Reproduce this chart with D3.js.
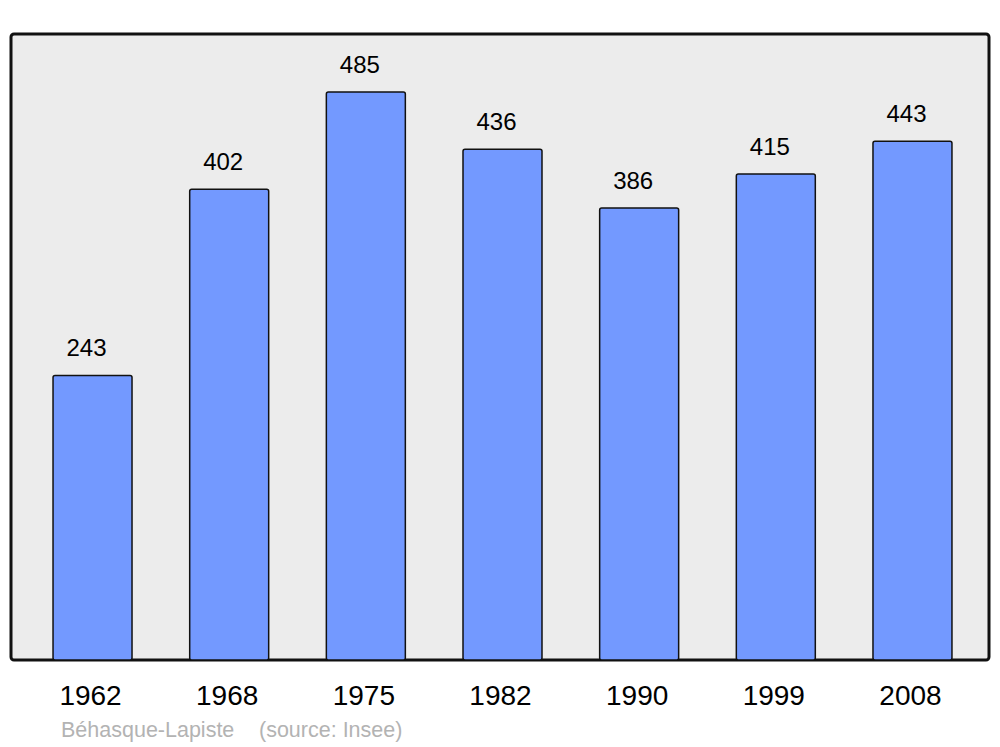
<!DOCTYPE html>
<html><head><meta charset="utf-8">
<script src="https://cdn.jsdelivr.net/npm/d3@7"></script>
<style>body{margin:0;background:#fff}svg{display:block}</style>
</head><body>
<script>
const years = ["1962","1968","1975","1982","1990","1999","2008"];
const population = [243,402,485,436,386,415,443];
const sourceParts = ["Béhasque-Lapiste", "(source: Insee)"];

const W = 1000, H = 747;
const svg = d3.select("body").append("svg").attr("width", W).attr("height", H);
const font = "'Liberation Sans', Arial, sans-serif";

const plot = {x0: 11, x1: 989, y0: 34, y1: 660};
svg.append("rect").attr("x", plot.x0).attr("y", plot.y0)
  .attr("width", plot.x1 - plot.x0).attr("height", plot.y1 - plot.y0)
  .attr("rx", 3).attr("fill", "#ececec").attr("stroke", "#111").attr("stroke-width", 3);

const x = d3.scaleBand().domain(years).range([24.2, 980.8]).paddingInner(0.422).paddingOuter(0.211);
const y = d3.scaleLinear().domain([0, 534.5]).range([plot.y1, plot.y0]);

svg.selectAll("rect.bar").data(years).join("rect").attr("class","bar")
  .attr("x", d => x(d)).attr("width", x.bandwidth())
  .attr("y", (d,i) => y(population[i])).attr("height", (d,i) => plot.y1 - y(population[i]))
  .attr("rx", 2).attr("fill", "#7399ff").attr("stroke", "#111").attr("stroke-width", 1.5);

svg.selectAll("text.val").data(years).join("text").attr("class","val")
  .attr("x", d => x(d) + x.bandwidth()/2 - 6).attr("y", (d,i) => y(population[i]) - 19)
  .attr("text-anchor","middle").attr("font-family", font).attr("font-size", 24).attr("fill","#000")
  .text((d,i) => population[i]);

svg.selectAll("text.yr").data(years).join("text").attr("class","yr")
  .attr("x", d => x(d) + x.bandwidth()/2 - 2).attr("y", 705)
  .attr("text-anchor","middle").attr("font-family", font).attr("font-size", 28).attr("fill","#000")
  .text(d => d);

svg.selectAll("text.src").data(sourceParts).join("text").attr("class","src")
  .attr("x", (d,i) => i === 0 ? 61 : 259).attr("y", 737)
  .attr("font-family", font).attr("font-size", 21.5).attr("fill", "#b3b3b3").text(d => d);
</script>
</body></html>
